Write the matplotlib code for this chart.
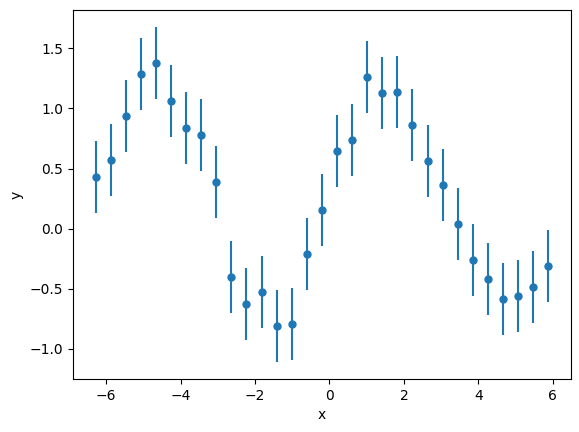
import numpy as np
import matplotlib
matplotlib.use("Agg")
import matplotlib.pyplot as plt

x = [-6.283, -5.878, -5.472, -5.067, -4.662, -4.256, -3.851, -3.446,
     -3.040, -2.635, -2.229, -1.824, -1.419, -1.013, -0.608, -0.203,
     0.203, 0.608, 1.013, 1.419, 1.824, 2.229, 2.635, 3.040,
     3.446, 3.851, 4.256, 4.662, 5.067, 5.472, 5.878]
y = [0.43, 0.57, 0.94, 1.29, 1.38, 1.06, 0.84, 0.78,
     0.39, -0.40, -0.63, -0.53, -0.81, -0.79, -0.21, 0.156,
     0.645, 0.74, 1.26, 1.125, 1.135, 0.86, 0.56, 0.36,
     0.04, -0.26, -0.42, -0.585, -0.56, -0.485, -0.31]
yerr = 0.3

fig = plt.figure(figsize=(5.79, 4.32), dpi=100)
ax = fig.add_subplot(111)
fig.subplots_adjust(left=0.126, right=0.986, top=0.977, bottom=0.123)
ax.errorbar(x, y, yerr=yerr, fmt='o', ms=5, color='#1f77b4')
ax.set_xlabel('x')
ax.set_ylabel('y')
fig.savefig('out.png', dpi=100)
